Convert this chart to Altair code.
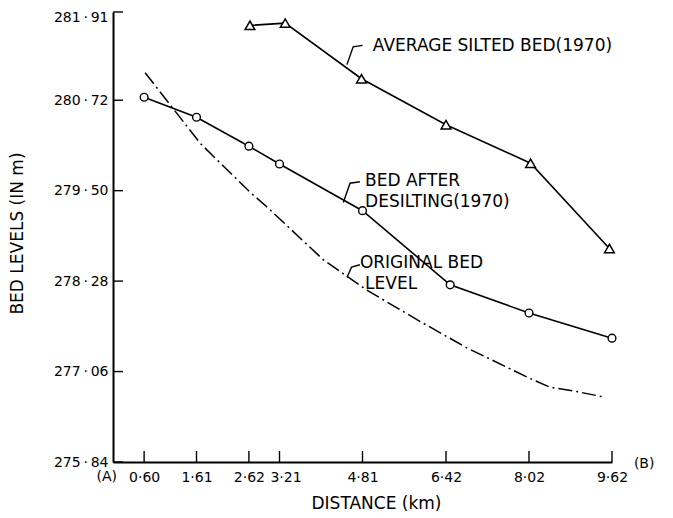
import altair as alt
import pandas as pd

# ---- data ----
dist_ticks = [0.60, 1.61, 2.62, 3.21, 4.81, 6.42, 8.02, 9.62]
level_ticks = [275.84, 277.06, 278.28, 279.50, 280.72, 281.91]

desilt_x = [0.60, 1.61, 2.62, 3.21, 4.81, 6.50, 8.02, 9.62]
desilt_y = [280.76, 280.49, 280.10, 279.86, 279.23, 278.23, 277.85, 277.51]

silted_x = [2.64, 3.32, 4.79, 6.42, 8.05, 9.57]
silted_y = [281.73, 281.76, 281.01, 280.39, 279.87, 278.72]

orig_x = [0.62, 1.68, 2.64, 2.97, 4.05, 4.89, 5.86, 6.82, 8.09, 8.42, 8.94, 9.44]
orig_y = [281.09, 280.14, 279.48, 279.28, 278.57, 278.16, 277.76, 277.38, 276.95, 276.85, 276.79, 276.72]

label_text = ["AVERAGE SILTED BED(1970)", "BED AFTER", "DESILTING(1970)", "ORIGINAL BED", "LEVEL"]
label_x = [5.01, 4.86, 4.86, 4.76, 4.86]
label_y = [281.45, 279.63, 279.35, 278.52, 278.24]

leader_group = ["a", "a", "a", "b", "b", "b", "c", "c", "c"]
leader_x = [4.51, 4.63, 4.81, 4.44, 4.57, 4.76, 4.51, 4.60, 4.76]
leader_y = [281.20, 281.44, 281.46, 279.34, 279.60, 279.62, 278.33, 278.47, 278.50]

end_text = ["(A)", "(B)"]
end_x = [-0.12, 10.24]
end_y = [275.64, 275.81]

FONT = "DejaVu Sans"
W, H = 499, 450

xs = alt.Scale(domain=[0, 9.62], nice=False, zero=False)
ys = alt.Scale(domain=[275.84, 281.91], nice=False, zero=False)

orig_df = pd.DataFrame({"x": orig_x, "y": orig_y})
des_df = pd.DataFrame({"x": desilt_x, "y": desilt_y})
sil_df = pd.DataFrame({"x": silted_x, "y": silted_y})
lab_df = pd.DataFrame({"x": label_x, "y": label_y, "t": label_text})
lead_df = pd.DataFrame({"g": leader_group, "x": leader_x, "y": leader_y,
                        "o": list(range(len(leader_x)))})
end_df = pd.DataFrame({"x": end_x, "y": end_y, "t": end_text})
xt_df = pd.DataFrame({"x": dist_ticks})
yt_df = pd.DataFrame({"y": level_ticks})

x_axis = alt.Axis(
    values=dist_ticks,
    labelExpr="replace(format(datum.value, '.2f'), '.', '·')",
    labelOffset={"condition": {"test": "datum.value > 3 && datum.value < 3.5", "value": 6}, "value": 0},
    ticks=False, grid=False, labelPadding=8, labelFontSize=14, labelFont=FONT,
    labelColor="black", labelOverlap=False, labelFlush=False, labelBound=False,
    domainColor="black", domainWidth=2,
    title="DISTANCE (km)", titleX=263, titleY=41, titleFontSize=17,
    titleFont=FONT, titleFontWeight="normal", titleBaseline="middle",
    titleAlign="center", titleColor="black",
)
y_axis = alt.Axis(
    values=level_ticks,
    labelExpr="replace(format(datum.value, '.2f'), '.', '\u2009·\u2009')",
    labelOffset={"condition": {"test": "datum.value > 281.5", "value": 5}, "value": 0},
    ticks=False, grid=False, labelPadding=5, labelFontSize=14, labelFont=FONT,
    labelColor="black", labelOverlap=False, labelFlush=False, labelBound=False,
    domainColor="black", domainWidth=2,
    title="BED LEVELS (IN m)", titleX=-96, titleY=221, titleFontSize=17,
    titleFont=FONT, titleFontWeight="normal", titleBaseline="middle",
    titleAlign="center", titleAngle=-90, titleColor="black",
)

X = alt.X("x:Q", scale=xs, axis=x_axis, title="DISTANCE (km)")
Y = alt.Y("y:Q", scale=ys, axis=y_axis, title="BED LEVELS (IN m)")

orig = alt.Chart(orig_df).mark_line(
    color="black", strokeWidth=1.5, strokeDash=[14, 4, 2, 4]
).encode(x=X, y=Y)

des_line = alt.Chart(des_df).mark_line(color="black", strokeWidth=1.6).encode(x=X, y=Y)
des_pts = alt.Chart(des_df).mark_point(
    shape="circle", filled=True, fill="white", stroke="black",
    strokeWidth=1.4, size=60, opacity=1
).encode(x=X, y=Y)

sil_line = alt.Chart(sil_df).mark_line(color="black", strokeWidth=1.6).encode(x=X, y=Y)
sil_pts = alt.Chart(sil_df).mark_point(
    shape="triangle-up", filled=True, fill="white", stroke="black",
    strokeWidth=1.5, size=95, opacity=1
).encode(x=X, y=Y)

leaders = alt.Chart(lead_df).mark_line(color="black", strokeWidth=1.4).encode(
    x=X, y=Y, detail="g:N", order="o:Q")

labels = alt.Chart(lab_df).mark_text(
    align="left", baseline="middle", fontSize=17, font=FONT, color="black"
).encode(x=X, y=Y, text="t:N")

ends = alt.Chart(end_df).mark_text(
    align="center", baseline="middle", fontSize=14, font=FONT, color="black"
).encode(x=X, y=Y, text="t:N")

xticks = alt.Chart(xt_df).mark_rule(color="black", strokeWidth=1.4).encode(
    x=X, y=alt.value(H), y2=alt.value(H - 11))
yticks = alt.Chart(yt_df).mark_rule(color="black", strokeWidth=1.4).encode(
    y=Y, x=alt.value(0), x2=alt.value(10))

chart = alt.layer(
    orig, des_line, sil_line, leaders, des_pts, sil_pts, labels, ends, xticks, yticks
).properties(
    width=W, height=H,
    autosize=alt.AutoSizeParams(type="none"),
    padding={"left": 105, "top": 4, "right": 53, "bottom": 56},
    background="white",
).configure_view(stroke=None)

chart.save("out.html", embed_options={"renderer": "svg", "actions": False})
